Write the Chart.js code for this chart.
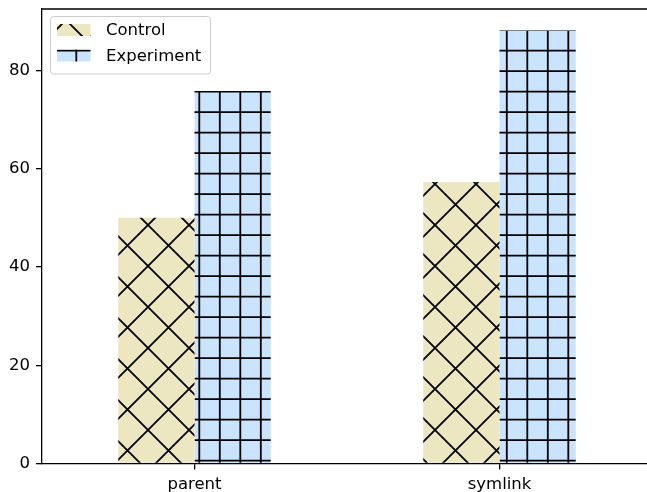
<!DOCTYPE html>
<html><head><meta charset="utf-8">
<script src="https://cdn.jsdelivr.net/npm/chart.js@4"></script>
<style>html,body{margin:0;padding:0;overflow:hidden;background:#fff;width:647px;height:492px}
canvas{display:block}</style></head>
<body><canvas id="c" width="660" height="492"></canvas>
<script>
const categories = ['parent', 'symlink'];
const seriesNames = ['Control', 'Experiment'];
const controlValues = [50, 57.3];
const experimentValues = [75.8, 88.1];
const yTicks = [0, 20, 40, 60, 80];
const yMax = 92.5;

const FONT = 'DejaVu Sans';
const FSIZE = 16.5;
const TILE = 41;

function hatchX(bg) {
  const c = document.createElement('canvas'); c.width = TILE; c.height = TILE;
  const g = c.getContext('2d');
  g.fillStyle = bg; g.fillRect(0, 0, TILE, TILE);
  g.strokeStyle = '#000'; g.lineWidth = 1.8; g.beginPath();
  for (let k = -2; k <= 3; k++) {
    const a = 4 + k * TILE;   // x + y = a
    g.moveTo(a + 20, -20); g.lineTo(a - 61, 61);
    const b = 5 + k * TILE;   // x - y = b
    g.moveTo(b - 20, -20); g.lineTo(b + 61, 61);
  }
  g.stroke();
  return g.createPattern(c, 'repeat');
}
function hatchPlus(bg) {
  const c = document.createElement('canvas'); c.width = TILE; c.height = TILE;
  const g = c.getContext('2d');
  g.fillStyle = bg; g.fillRect(0, 0, TILE, TILE);
  g.strokeStyle = '#000'; g.lineWidth = 1.8; g.beginPath();
  [14.8, 35.3].forEach(x => { g.moveTo(x, -2); g.lineTo(x, TILE + 2); });
  [9.7, 30.2].forEach(y => { g.moveTo(-2, y); g.lineTo(TILE + 2, y); });
  g.stroke();
  return g.createPattern(c, 'repeat');
}

const controlFill = hatchX('#EDE7C1');
const expFill = hatchPlus('#CAE3FE');

const framePlugin = {
  id: 'frame',
  afterDraw(chart) {
    const { ctx, chartArea: a } = chart;
    ctx.save();
    ctx.strokeStyle = '#000'; ctx.lineWidth = 1.3;
    ctx.beginPath();
    ctx.moveTo(a.left, a.top); ctx.lineTo(a.right, a.top); ctx.lineTo(a.right, a.bottom);
    ctx.stroke();
    // legend
    const lx = a.left + 8.5, ly = a.top + 7.5, lw = 160, lh = 57.5, r = 3;
    ctx.beginPath();
    ctx.moveTo(lx + r, ly); ctx.lineTo(lx + lw - r, ly); ctx.arcTo(lx + lw, ly, lx + lw, ly + r, r);
    ctx.lineTo(lx + lw, ly + lh - r); ctx.arcTo(lx + lw, ly + lh, lx + lw - r, ly + lh, r);
    ctx.lineTo(lx + r, ly + lh); ctx.arcTo(lx, ly + lh, lx, ly + lh - r, r);
    ctx.lineTo(lx, ly + r); ctx.arcTo(lx, ly, lx + r, ly, r); ctx.closePath();
    ctx.fillStyle = 'rgba(255,255,255,0.8)'; ctx.fill();
    ctx.strokeStyle = '#cccccc'; ctx.lineWidth = 1; ctx.stroke();
    const ds = chart.data.datasets;
    ds.forEach((d, i) => {
      const py = ly + 7.5 + i * 25.5;
      ctx.fillStyle = d.backgroundColor;
      ctx.fillRect(lx + 6.5, py, 33.5, 12);
      ctx.fillStyle = '#000';
      ctx.font = FSIZE + 'px "' + FONT + '"';
      ctx.textBaseline = 'middle'; ctx.textAlign = 'left';
      ctx.fillText(d.label, lx + 55.5, py + 7);
    });
    ctx.restore();
  }
};

new Chart(document.getElementById('c'), {
  type: 'bar',
  data: {
    labels: categories,
    datasets: [
      { label: seriesNames[0], data: controlValues, backgroundColor: controlFill, borderWidth: 0 },
      { label: seriesNames[1], data: experimentValues, backgroundColor: expFill, borderWidth: 0 }
    ]
  },
  options: {
    responsive: false,
    animation: false,
    devicePixelRatio: 1,
    categoryPercentage: 0.5,
    barPercentage: 1.0,
    layout: { padding: { top: 0, right: 8, left: 0, bottom: 0 } },
    plugins: { legend: { display: false }, tooltip: { enabled: false } },
    scales: {
      x: {
        type: 'category', offset: true,
        grid: { display: true, drawOnChartArea: false, drawTicks: true, tickLength: 6, color: '#000', lineWidth: 1.3, offset: false },
        border: { display: true, color: '#000', width: 1.3 },
        ticks: { font: { family: FONT, size: FSIZE }, color: '#000', padding: 5, maxRotation: 0 },
        afterFit(s) { s.height = 28.5; }
      },
      y: {
        min: 0, max: yMax,
        afterBuildTicks(s) { s.ticks = yTicks.map(v => ({ value: v })); },
        grid: { display: true, drawOnChartArea: false, drawTicks: true, tickLength: 6, color: '#000', lineWidth: 1.3 },
        border: { display: true, color: '#000', width: 1.3 },
        ticks: { font: { family: FONT, size: FSIZE }, color: '#000', padding: 6 },
        afterFit(s) { s.width = 42; s.paddingTop = 9; }
      }
    }
  },
  plugins: [framePlugin]
});
</script>
</body></html>
